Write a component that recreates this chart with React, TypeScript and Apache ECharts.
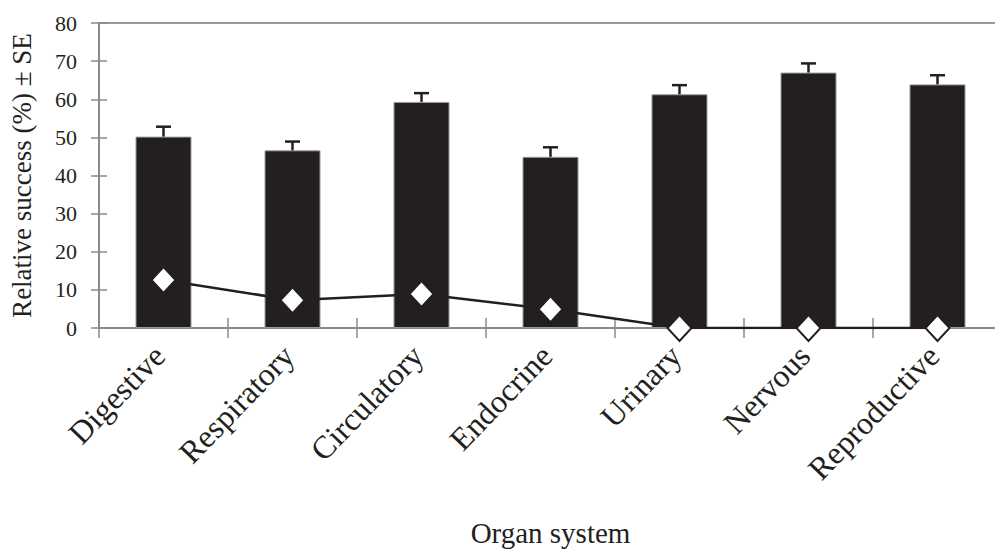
import React, { useEffect, useRef } from "react";
import * as echarts from "echarts";

const categories = ["Digestive", "Respiratory", "Circulatory", "Endocrine", "Urinary", "Nervous", "Reproductive"];
const successValues = [50.2, 46.6, 59.3, 44.9, 61.3, 67.0, 63.9];
const seValues = [2.6, 2.3, 2.3, 2.5, 2.4, 2.4, 2.4];
const lineValues = [12.6, 7.3, 8.9, 4.9, 0, 0, 0];
const yTicks = { min: 0, max: 80, interval: 10 };

const INK = "#231f20";
const GRAY = "#8a8a8a";
const FONT = "Liberation Serif";

export default function App() {
  const ref = useRef<HTMLDivElement>(null);
  useEffect(() => {
    if (!ref.current) return;
    const chart = echarts.init(ref.current, null, { renderer: "svg" });
    const errData = successValues.map((v, i) => [i, v, seValues[i]]);
    chart.setOption({
      animation: false,
      backgroundColor: "#ffffff",
      textStyle: { fontFamily: FONT, color: INK },
      grid: {
        left: 99,
        top: 23,
        width: 903,
        height: 305,
        outerBoundsMode: "none",
        containLabel: false,
        show: true,
        borderColor: "#9a9a9a",
        borderWidth: 2,
        backgroundColor: "transparent",
      },
      xAxis: [
        {
          type: "category",
          data: categories,
          position: "bottom",
          axisLine: { show: true, lineStyle: { color: GRAY, width: 2 } },
          axisTick: { show: true, length: 10, lineStyle: { color: GRAY, width: 1.5 } },
          axisLabel: {
            rotate: 46,
            fontSize: 32,
            fontFamily: FONT,
            color: INK,
            margin: 18,
            interval: 0,
            padding: [0, 6, 0, 0],
          },
          name: "Organ system",
          nameLocation: "middle",
          nameGap: 190,
          nameTextStyle: { fontSize: 29, fontFamily: FONT, color: INK },
        },
        {
          type: "category",
          data: categories,
          position: "bottom",
          axisLine: { show: false },
          axisTick: { show: true, inside: true, length: 10, lineStyle: { color: GRAY, width: 1.5 } },
          axisLabel: { show: false },
        },
      ],
      yAxis: [
        {
          type: "value",
          min: yTicks.min,
          max: yTicks.max,
          interval: yTicks.interval,
          axisLine: { show: true, lineStyle: { color: GRAY, width: 2 } },
          axisTick: { show: true, length: 8, lineStyle: { color: GRAY, width: 1.5 } },
          splitLine: { show: false },
          axisLabel: { fontSize: 22, fontFamily: FONT, color: INK, margin: 22 },
          name: "Relative success (%) ± SE",
          nameLocation: "middle",
          nameGap: 64,
          nameTextStyle: { fontSize: 27, fontFamily: FONT, color: INK },
        },
        {
          type: "value",
          min: yTicks.min,
          max: yTicks.max,
          interval: yTicks.interval,
          position: "left",
          axisLine: { show: false },
          axisTick: { show: true, inside: true, length: 8, lineStyle: { color: GRAY, width: 1.5 } },
          splitLine: { show: false },
          axisLabel: { show: false },
        },
      ],
      series: [
        {
          type: "bar",
          data: successValues,
          barWidth: 56,
          itemStyle: { color: INK, borderColor: "#9a9a9a", borderWidth: 1 },
          z: 2,
        },
        {
          type: "custom",
          data: errData,
          z: 3,
          renderItem: (params: any, api: any) => {
            const i = api.value(0);
            const v = api.value(1);
            const se = api.value(2);
            const p0 = api.coord([i, v]);
            const p1 = api.coord([i, v + se]);
            const hw = 7.5;
            return {
              type: "group",
              children: [
                {
                  type: "line",
                  shape: { x1: p0[0], y1: p0[1], x2: p1[0], y2: p1[1] },
                  style: { stroke: INK, lineWidth: 2.5 },
                },
                {
                  type: "line",
                  shape: { x1: p1[0] - hw, y1: p1[1], x2: p1[0] + hw, y2: p1[1] },
                  style: { stroke: INK, lineWidth: 2.5 },
                },
              ],
            };
          },
        },
        {
          type: "line",
          data: lineValues,
          symbol: "diamond",
          symbolSize: [24, 26],
          lineStyle: { color: INK, width: 2.5 },
          itemStyle: { color: "#ffffff", borderColor: INK, borderWidth: 2 },
          z: 5,
        },
      ],
    });
    return () => chart.dispose();
  }, []);
  return (
    <div
      ref={ref}
      style={{ position: "absolute", left: 0, top: 0, width: 995, height: 551 }}
    />
  );
}
